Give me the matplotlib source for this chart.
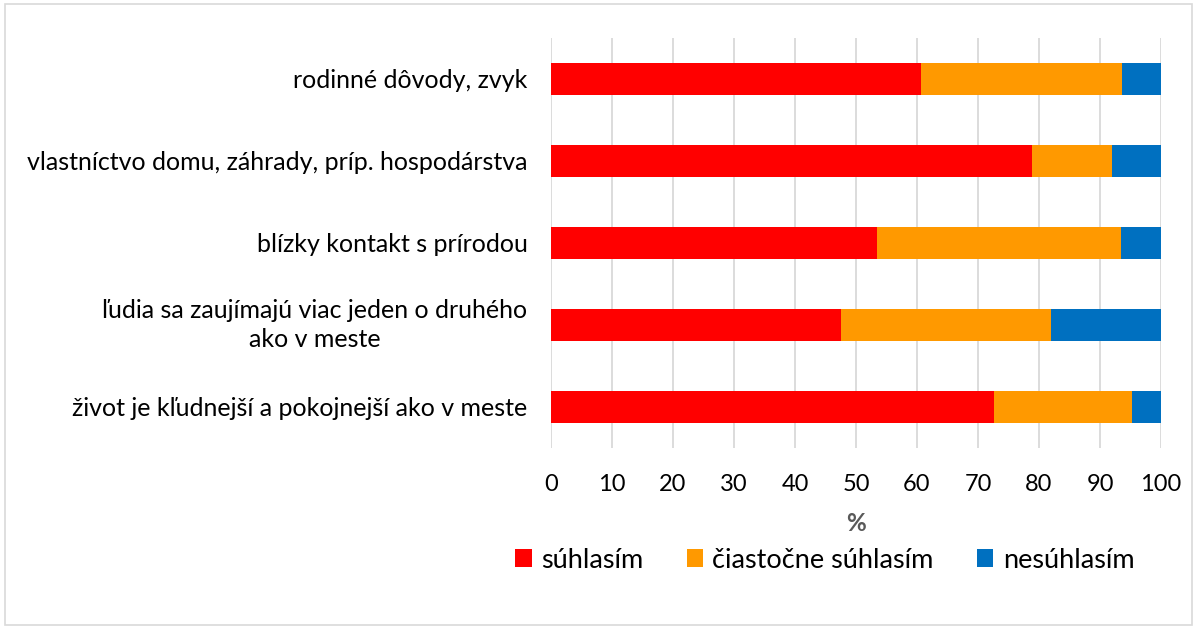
import matplotlib
matplotlib.use("Agg")
import matplotlib.pyplot as plt
from matplotlib.patches import Rectangle

categories = [
    "život je kľudnejší a pokojnejší ako v meste",
    "ľudia sa zaujímajú viac jeden o druhého\nako v meste",
    "blízky kontakt s prírodou",
    "vlastníctvo domu, záhrady, príp. hospodárstva",
    "rodinné dôvody, zvyk",
]
series_names = ["súhlasím", "čiastočne súhlasím", "nesúhlasím"]
suhlasim = [72.6, 47.6, 53.4, 78.8, 60.6]
ciastocne = [22.7, 34.4, 40.0, 13.1, 33.0]
nesuhlasim = [4.7, 18.0, 6.6, 8.1, 6.4]
colors = ["#FF0000", "#FF9900", "#0070C0"]
xticks = [0, 10, 20, 30, 40, 50, 60, 70, 80, 90, 100]

plt.rcParams['font.family'] = ['Lato', 'DejaVu Sans']

fig = plt.figure(figsize=(11.97, 6.28), dpi=100)
ax = fig.add_axes([551/1197, 1 - 448/628, 610/1197, 410/628])

y = list(range(len(categories)))
left = [0] * len(categories)
for vals, name, c in zip([suhlasim, ciastocne, nesuhlasim], series_names, colors):
    ax.barh(y, vals, left=left, height=0.4, color=c, label=name, zorder=3)
    left = [l + v for l, v in zip(left, vals)]

ax.set_xlim(0, 100)
ax.set_ylim(-0.5, len(categories) - 0.5)
ax.set_xticks(xticks)
ax.set_yticks(y)
ax.set_yticklabels(categories, multialignment='center', linespacing=1.35)
for t in ax.get_yticklabels():
    if "\n" in t.get_text():
        t.set_va('center')
ax.tick_params(axis='y', length=0, pad=17, labelsize=18)
ax.tick_params(axis='x', length=0, pad=19, labelsize=17)
ax.grid(axis='x', color='#D9D9D9', linewidth=1.3, zorder=0)
for s in ax.spines.values():
    s.set_visible(False)
ax.set_xlabel("%", fontsize=17.5, fontweight='bold', color='#595959', labelpad=12)

ax.legend(loc='center', bbox_to_anchor=(825/1197, 1 - 560/628), bbox_transform=fig.transFigure,
          ncol=3, frameon=False, fontsize=19.5, handlelength=0.6, handleheight=0.6,
          columnspacing=1.6, handletextpad=0.35)

fig.patches.append(Rectangle((0.004, 0.004), 0.992, 0.99, transform=fig.transFigure,
                             fill=False, edgecolor='#D9D9D9', linewidth=1.2))

fig.savefig("out.png", dpi=100)
